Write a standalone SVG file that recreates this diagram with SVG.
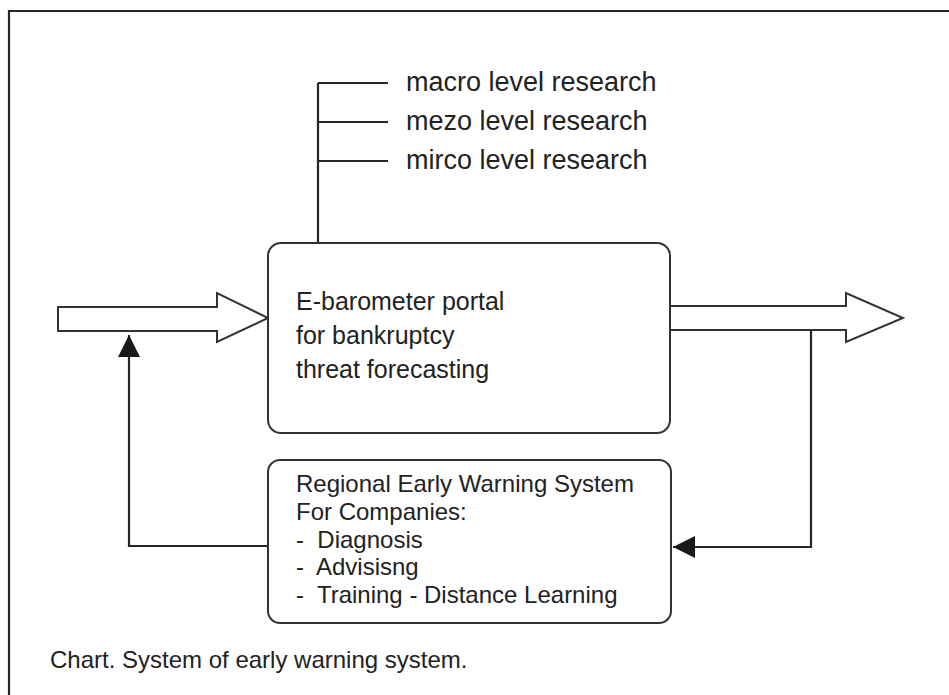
<svg xmlns="http://www.w3.org/2000/svg" width="949" height="695" viewBox="0 0 949 695">
<defs>
<style>
.ln{fill:none;stroke:#262626;stroke-width:2.2}
.bx{fill:#fff;stroke:#333;stroke-width:2}
.ar{fill:#fff;stroke:#333;stroke-width:2;stroke-linejoin:miter}
.t{font-family:"Liberation Sans",Arial,sans-serif;fill:#222}
.tt{font-size:27px}
.tb{font-size:25px}
.tl{font-size:24px}
</style>
<marker id="ah" viewBox="0 0 22 22" refX="22" refY="11" markerWidth="22" markerHeight="22" markerUnits="userSpaceOnUse" orient="auto">
<path d="M0,0 L22,11 L0,22 Z" fill="#1a1a1a"/>
</marker>
</defs>
<rect width="949" height="695" fill="#fff"/>
<path class="ln" d="M9,720 L9,11 L960,11" stroke="#333" stroke-width="2.5"/>

<g id="connectors">
<path class="ln" d="M318,243 L318,83 M318,83 L388,83 M318,122 L388,122 M318,161 L388,161"/>
<path id="input-arrow" class="ar" d="M58,307 L217,307 L217,293 L268,318 L217,342 L217,331 L58,331 Z"/>
<path id="output-arrow" class="ar" d="M670,306 L846,306 L846,293 L903,318 L846,342 L846,330 L670,330"/>
<path class="ln" d="M811,330 L811,547 L673,547" marker-end="url(#ah)"/>
<path class="ln" d="M268,546 L129,546 L129,335" marker-end="url(#ah)"/>
</g>

<g id="labels-research">
<text class="t tt" x="406" y="91">macro level research</text>
<text class="t tt" x="406" y="130">mezo level research</text>
<text class="t tt" x="406" y="169">mirco level research</text>
</g>

<g id="portal">
<rect class="bx" x="268" y="243" width="402" height="190" rx="13"/>
<text class="t tb" x="296" y="310">E-barometer portal</text>
<text class="t tb" x="296" y="344">for bankruptcy</text>
<text class="t tb" x="296" y="378">threat forecasting</text>
</g>

<g id="warning-system">
<rect class="bx" x="268" y="460" width="403" height="163" rx="12"/>
<text class="t tl" x="296" y="492">Regional Early Warning System</text>
<text class="t tl" x="296" y="520">For Companies:</text>
<text class="t tl" x="296" y="548" xml:space="preserve">-  Diagnosis</text>
<text class="t tl" x="296" y="575" xml:space="preserve">-  Advisisng</text>
<text class="t tl" x="296" y="603" xml:space="preserve">-  Training - Distance Learning</text>
</g>

<g id="caption">
<text class="t tl" x="50" y="668">Chart. System of early warning system.</text>
</g>
</svg>
